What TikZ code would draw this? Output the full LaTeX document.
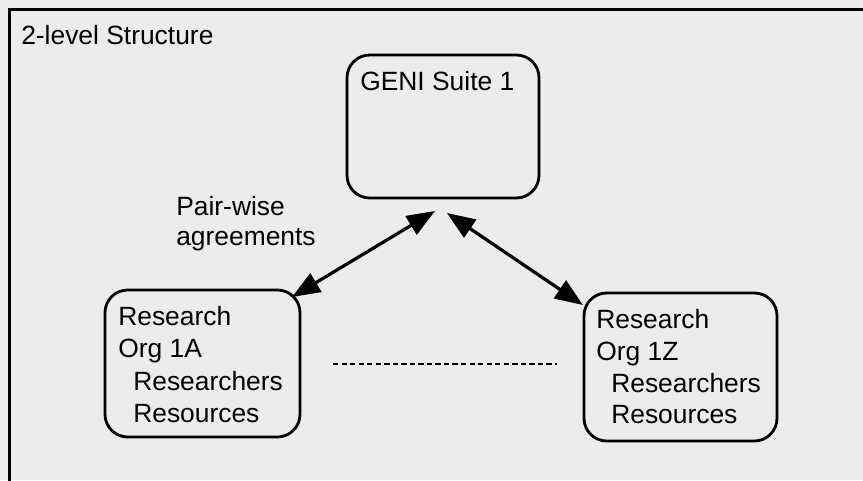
\documentclass[tikz,border=0pt]{standalone}
\usepackage{fontspec}
\setmainfont{Liberation Sans}
\usetikzlibrary{arrows.meta}
\definecolor{bgcol}{RGB}{236,236,236}
\tikzset{
  box/.style={draw=black, line width=2.1pt, rounded corners=17pt, inner sep=0pt},
  lbl/.style={anchor=base west, inner sep=0pt, font=\fontsize{19.8}{24}\selectfont},
  link/.style={line width=2.4pt, {Triangle[length=21pt,width=16pt]}-{Triangle[length=21pt,width=16pt]}},
  dots/.style={line width=2pt, dash pattern=on 4pt off 2.4pt}
}
\begin{document}
\begin{tikzpicture}[x=0.75pt,y=-0.75pt]
\useasboundingbox (0,0) rectangle (863,480);
\clip (0,0) rectangle (863,480);
\fill[bgcol] (0,0) rectangle (863,480);
% outer frame
\draw[line width=2.5pt] (9.6,9.6) rectangle (900,520);
\node[lbl] (title) at (21,44) {2-level Structure};
% boxes
\node[box, minimum width=144pt, minimum height=107.25pt] (geni) at (443,126.5) {};
\node[box, minimum width=146.25pt, minimum height=110.25pt] (orgA) at (202.5,363.5) {};
\node[box, minimum width=144.75pt, minimum height=111pt] (orgZ) at (680.5,367) {};
% texts
\node[lbl] (genit) at (360,90) {GENI Suite 1};
\node[lbl] (a1) at (118,325) {Research};
\node[lbl] (a2) at (118,357) {Org 1A};
\node[lbl] (a3) at (133,390) {Researchers};
\node[lbl] (a4) at (133,422) {Resources};
\node[lbl] (z1) at (596,328) {Research};
\node[lbl] (z2) at (596,360) {Org 1Z};
\node[lbl] (z3) at (611,392) {Researchers};
\node[lbl] (z4) at (611,423) {Resources};
\node[lbl] (pw1) at (176,215) {Pair-wise};
\node[lbl] (pw2) at (176,245) {agreements};
% connectors
\coordinate (gl) at (435,211);
\coordinate (al) at (292,297);
\coordinate (gr) at (447,213);
\coordinate (zr) at (583,305);
\draw[link] (gl) -- (al);
\draw[link] (gr) -- (zr);
\coordinate (d1) at (333,364);
\coordinate (d2) at (557,364);
\draw[dots] (d1) -- (d2);
\end{tikzpicture}
\end{document}
